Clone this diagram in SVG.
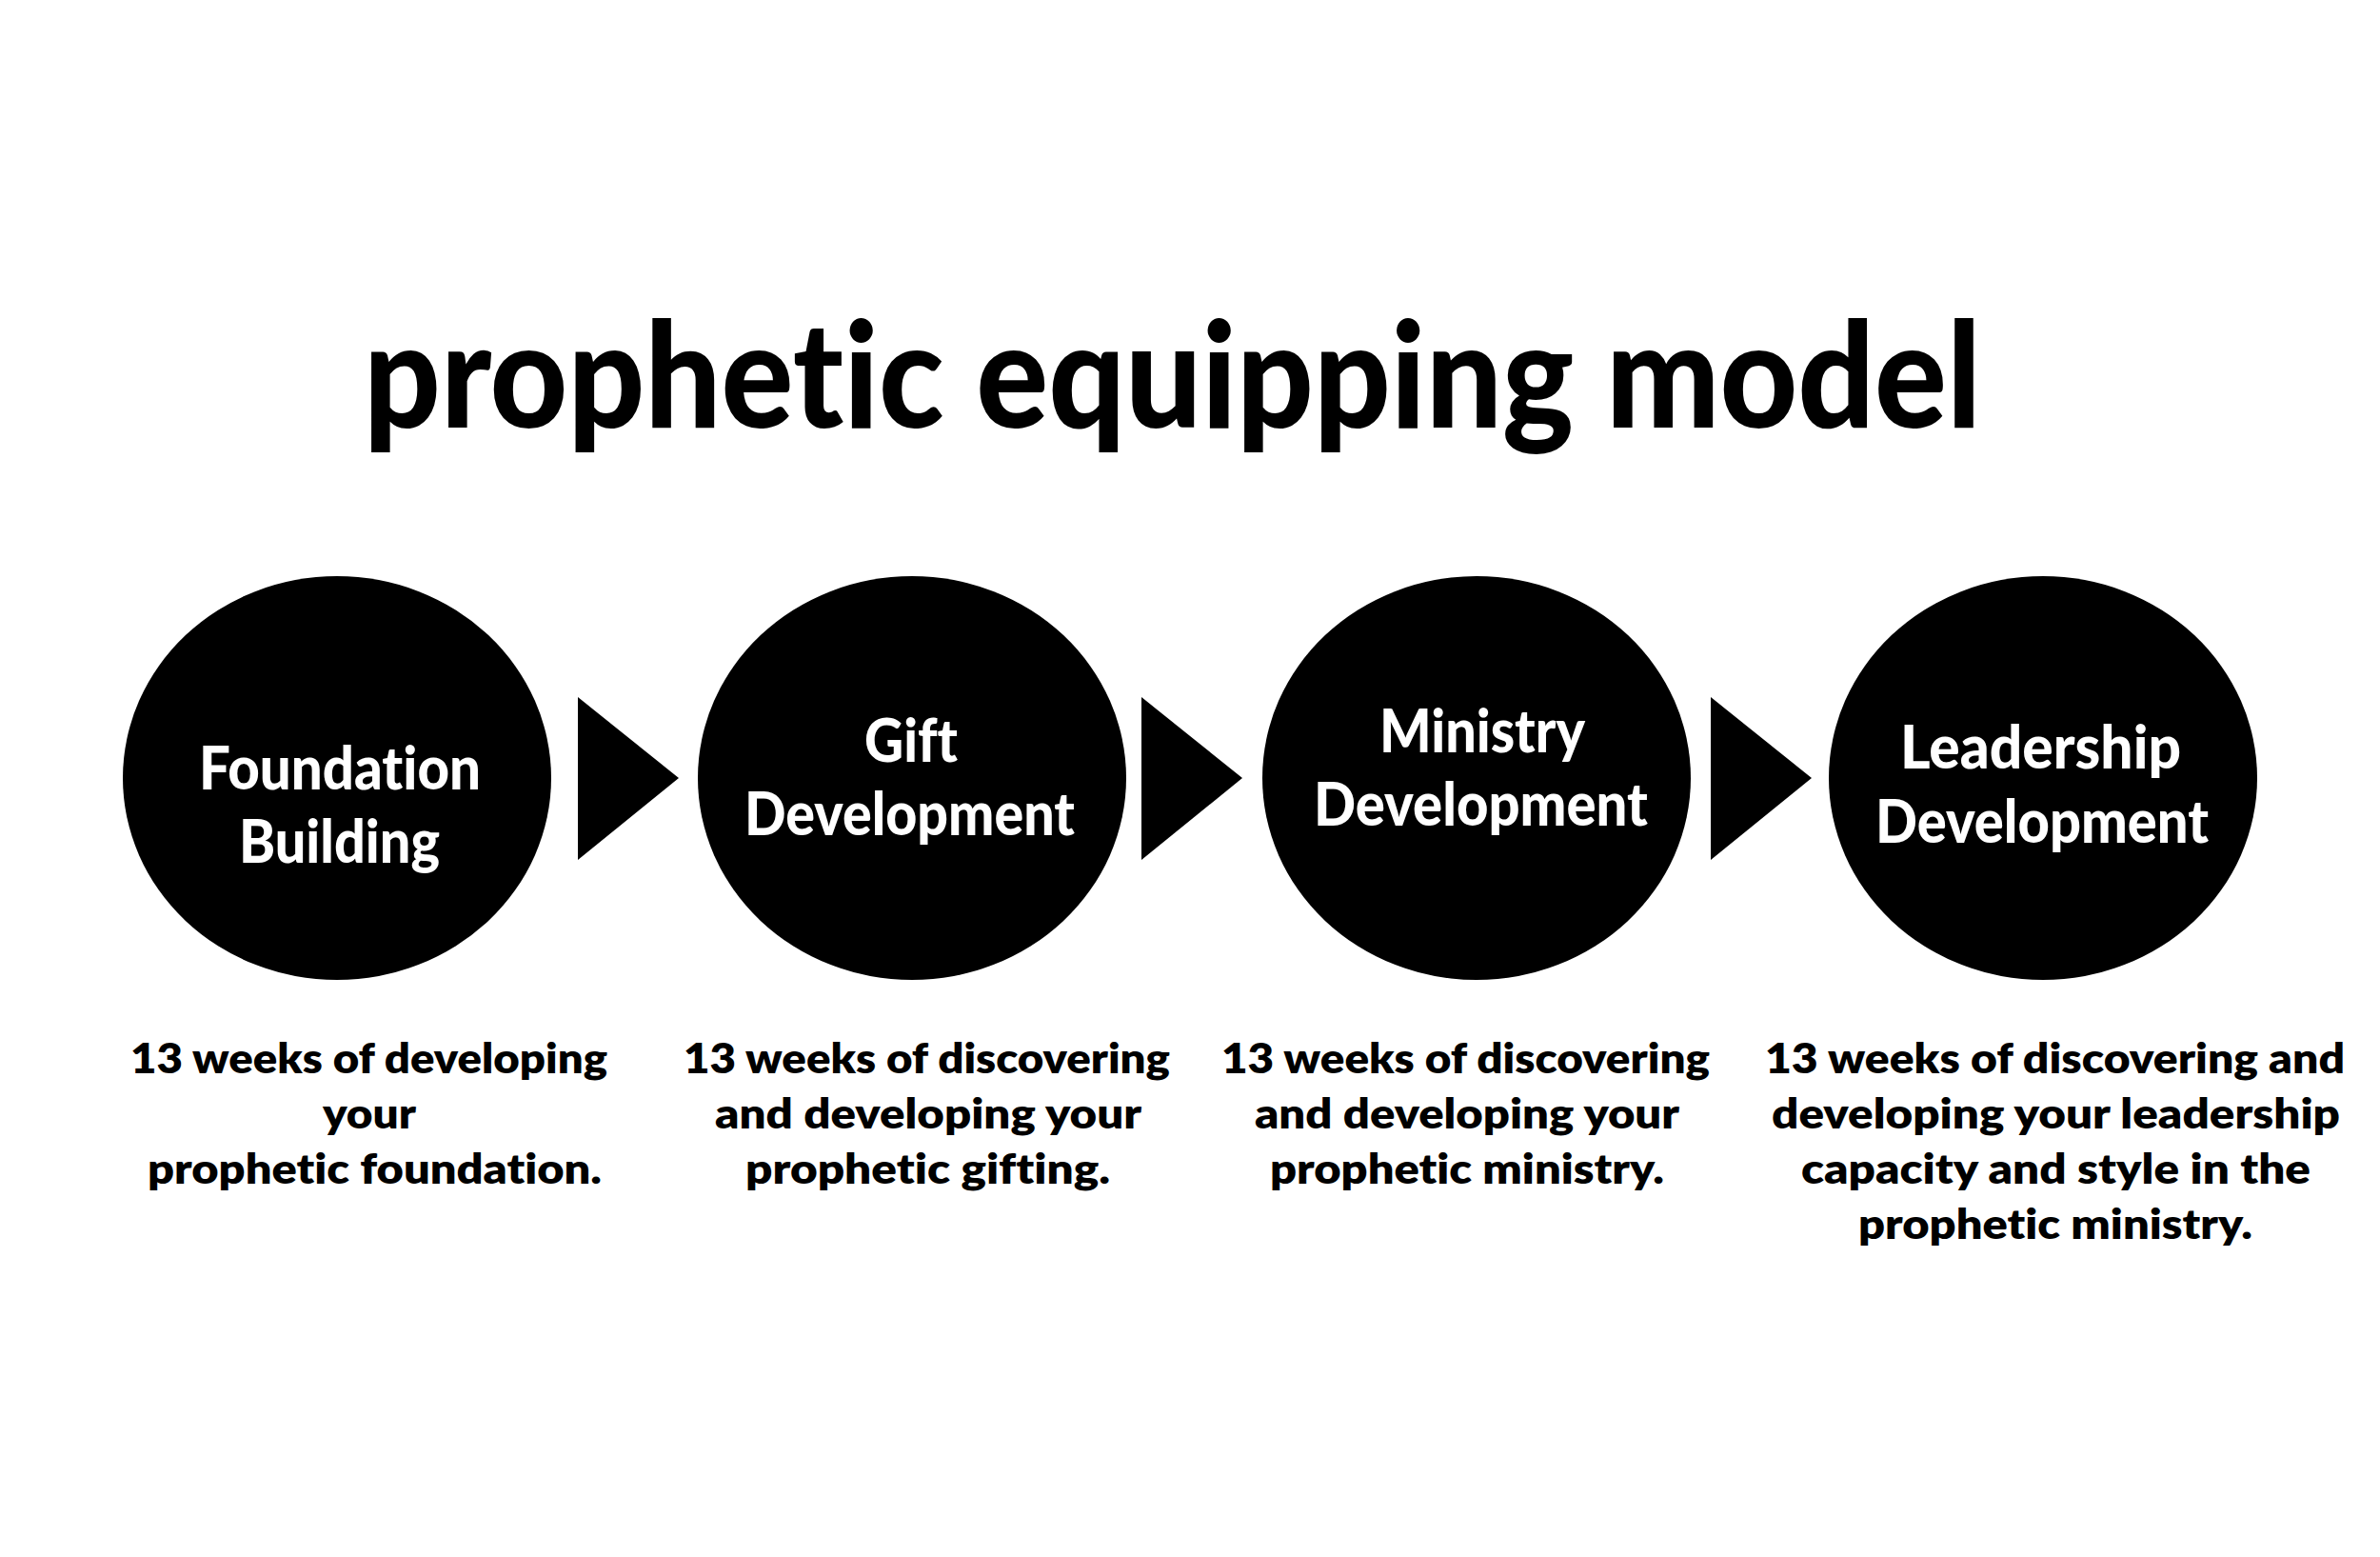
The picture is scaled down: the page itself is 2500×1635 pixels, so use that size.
<svg xmlns="http://www.w3.org/2000/svg" width="2500" height="1635" viewBox="0 0 2500 1635">
  <style>
    .bg { fill: #ffffff; }
    .node { fill: #000000; }
    .arrow { fill: #000000; }
    text { font-variant-ligatures: none; font-feature-settings: "liga" 0, "clig" 0; }
    .title { font-family: Lato, "Liberation Sans", sans-serif; font-weight: 900; font-size: 155px; fill: #000000; }
    .label { font-family: Lato, "Liberation Sans", sans-serif; font-weight: 900; font-size: 62px; fill: #ffffff; }
    .desc { font-family: Lato, "Liberation Sans", sans-serif; font-weight: 800; font-size: 43px; fill: #000000; }
  </style>
  <rect class="bg" x="0" y="0" width="2500" height="1635"/>

  <g id="title">
    <text class="title" x="382" y="449" textLength="1699" lengthAdjust="spacingAndGlyphs">prophetic equipping model</text>
  </g>

  <g id="connectors">
    <polygon class="arrow" points="607,732 713,817 607,903"/>
    <polygon class="arrow" points="1199,732 1305,817 1199,903"/>
    <polygon class="arrow" points="1797,732 1903,817 1797,903"/>
  </g>

  <g id="node-foundation">
    <ellipse class="node" cx="354" cy="817" rx="225" ry="212"/>
    <text class="label" x="209" y="829" textLength="296" lengthAdjust="spacingAndGlyphs">Foundation</text>
    <text class="label" x="251" y="906" textLength="211" lengthAdjust="spacingAndGlyphs">Building</text>
  </g>

  <g id="node-gift">
    <ellipse class="node" cx="958" cy="817" rx="225" ry="212"/>
    <text class="label" x="908" y="800" textLength="98" lengthAdjust="spacingAndGlyphs">Gift</text>
    <text class="label" x="782" y="877" textLength="347" lengthAdjust="spacingAndGlyphs">Development</text>
  </g>

  <g id="node-ministry">
    <ellipse class="node" cx="1551" cy="817" rx="225" ry="212"/>
    <text class="label" x="1449" y="790" textLength="216" lengthAdjust="spacingAndGlyphs">Ministry</text>
    <text class="label" x="1380" y="867" textLength="351" lengthAdjust="spacingAndGlyphs">Development</text>
  </g>

  <g id="node-leadership">
    <ellipse class="node" cx="2146" cy="817" rx="225" ry="212"/>
    <text class="label" x="1996" y="807" textLength="295" lengthAdjust="spacingAndGlyphs">Leadership</text>
    <text class="label" x="1970" y="885" textLength="350" lengthAdjust="spacingAndGlyphs">Development</text>
  </g>

  <g id="desc-foundation">
    <text class="desc" x="137" y="1127" textLength="501" lengthAdjust="spacingAndGlyphs">13 weeks of developing</text>
    <text class="desc" x="339" y="1185" textLength="98" lengthAdjust="spacingAndGlyphs">your</text>
    <text class="desc" x="155" y="1243" textLength="477" lengthAdjust="spacingAndGlyphs">prophetic foundation.</text>
  </g>

  <g id="desc-gift">
    <text class="desc" x="718" y="1127" textLength="511" lengthAdjust="spacingAndGlyphs">13 weeks of discovering</text>
    <text class="desc" x="751" y="1185" textLength="448" lengthAdjust="spacingAndGlyphs">and developing your</text>
    <text class="desc" x="783" y="1243" textLength="383" lengthAdjust="spacingAndGlyphs">prophetic gifting.</text>
  </g>

  <g id="desc-ministry">
    <text class="desc" x="1283" y="1127" textLength="513" lengthAdjust="spacingAndGlyphs">13 weeks of discovering</text>
    <text class="desc" x="1318" y="1185" textLength="446" lengthAdjust="spacingAndGlyphs">and developing your</text>
    <text class="desc" x="1334" y="1243" textLength="414" lengthAdjust="spacingAndGlyphs">prophetic ministry.</text>
  </g>

  <g id="desc-leadership">
    <text class="desc" x="1854" y="1127" textLength="609" lengthAdjust="spacingAndGlyphs">13 weeks of discovering and</text>
    <text class="desc" x="1861" y="1185" textLength="597" lengthAdjust="spacingAndGlyphs">developing your leadership</text>
    <text class="desc" x="1892" y="1243" textLength="535" lengthAdjust="spacingAndGlyphs">capacity and style in the</text>
    <text class="desc" x="1952" y="1301" textLength="414" lengthAdjust="spacingAndGlyphs">prophetic ministry.</text>
  </g>
</svg>
